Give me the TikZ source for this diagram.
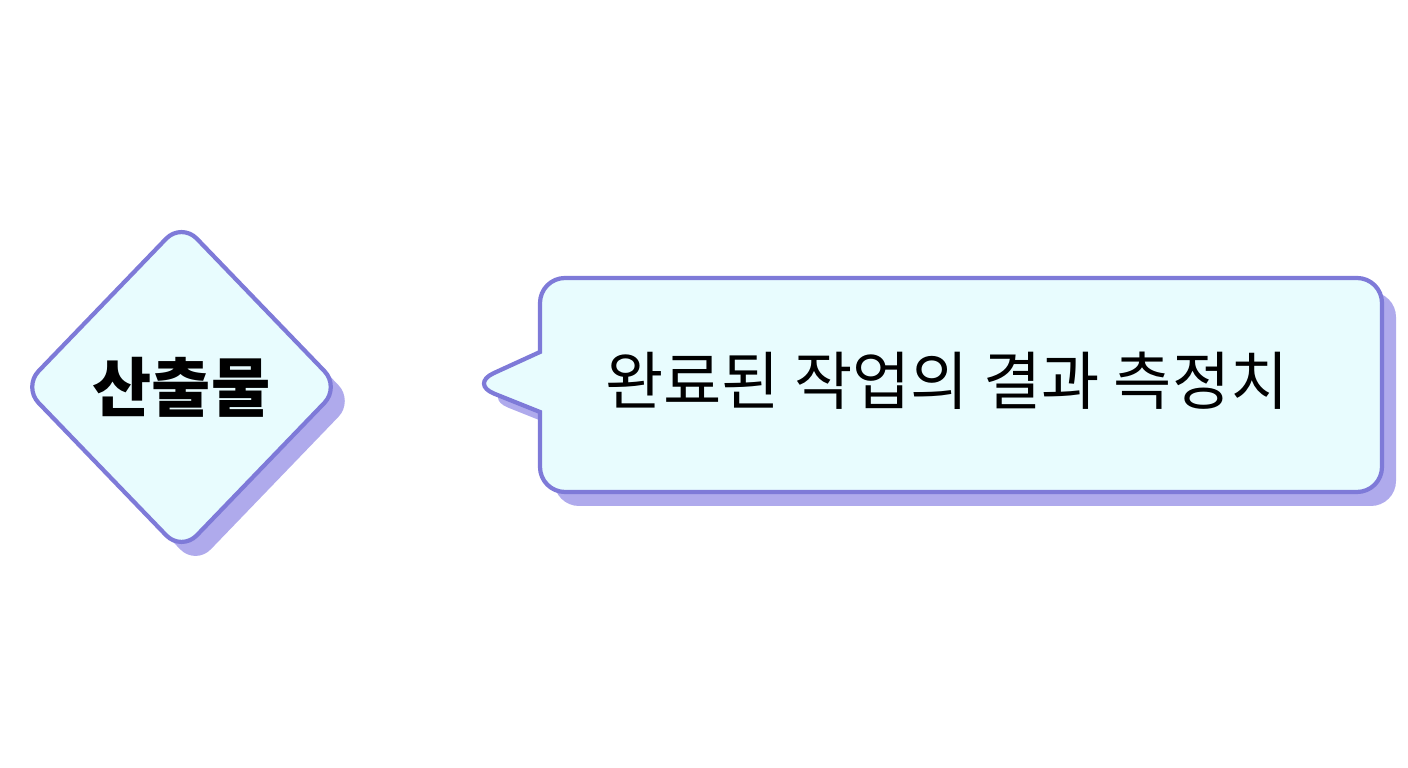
\documentclass[tikz,border=0pt]{standalone}
\usepackage{fontspec}
\newfontfamily\krfont{Noto Sans CJK KR}
\usetikzlibrary{shapes.geometric, shadows, positioning, calc}
\definecolor{edgeblue}{HTML}{7E7AD8}
\definecolor{shadeblue}{HTML}{AFAAEC}
\definecolor{paleaqua}{HTML}{E8FCFE}

\begin{document}
\begin{tikzpicture}[
    x=0.01cm, y=-0.01cm,
    % Styles
    lifted/.style={ drop shadow={shadow xshift=0.14cm, shadow yshift=-0.14cm, fill=shadeblue, opacity=1} },
    card/.style={ draw=edgeblue, line width=1.2pt, fill=paleaqua, lifted },
    deliverable/.style={ card, diamond, rounded corners=0.22cm, minimum width=3.18cm, minimum height=3.3cm, inner sep=0pt,
      font=\krfont\bfseries\fontsize{18.3}{22}\selectfont }, saying/.style={font=\krfont\fontsize{18}{22}\selectfont}, ]
  \useasboundingbox (0,0) rectangle (1408,768);

  % 1) Diamond with the term
  \node[deliverable] (output) at (181.5,387) {산출물};

  % 2) Speech bubble with its tail towards the diamond
  \coordinate (tip) at (470,384);
  \draw[card]
  (540,352) [rounded corners=0.25cm] -- (540,278) -- (1382,278) -- (1382,492) -- (540,492)
  [sharp corners] -- (540,412) [rounded corners=0.26cm] -- (tip) [sharp corners] -- (540,352) -- cycle;

  % 3) Definition text
  \node[saying] (meaning) at (947,381) {완료된 작업의 결과 측정치};
\end{tikzpicture}
\end{document}
